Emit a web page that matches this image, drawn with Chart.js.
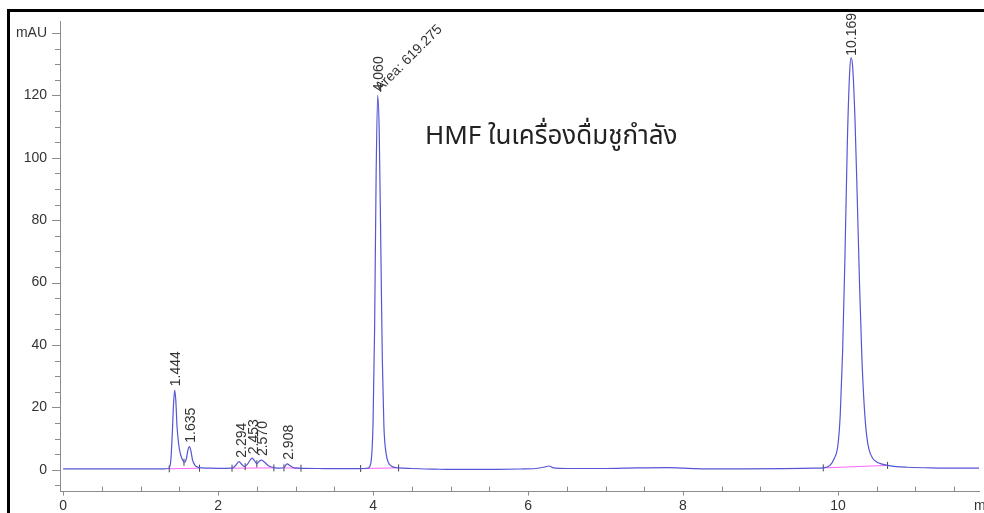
<!DOCTYPE html>
<html>
<head>
<meta charset="utf-8">
<script src="https://cdn.jsdelivr.net/npm/chart.js@4.4.0/dist/chart.umd.min.js"></script>
<style>
  html, body { margin: 0; padding: 0; background: #fff; }
  canvas { display: block; }
</style>
</head>
<body>
<canvas id="hplc" width="984" height="513"></canvas>
<script>
// trace: retention time (min) / signal (mAU)
const timeMin = [
  0, 0.5, 1.0, 1.30, 1.36, 1.39, 1.41, 1.425, 1.44, 1.455, 1.47, 1.49, 1.51, 1.54,
  1.565, 1.59, 1.61, 1.63, 1.65, 1.67, 1.70, 1.74, 1.80, 1.9, 2.0, 2.1, 2.18, 2.22,
  2.27, 2.31, 2.34, 2.38, 2.42, 2.44, 2.47, 2.50, 2.53, 2.56, 2.60, 2.65, 2.72, 2.80,
  2.85, 2.89, 2.93, 2.98, 3.1, 3.3, 3.6, 3.84, 3.93, 3.97, 4.00, 4.02, 4.04, 4.06,
  4.08, 4.10, 4.12, 4.14, 4.17, 4.20, 4.25, 4.33, 4.5, 4.8, 5.0, 5.3, 5.6, 5.9, 6.1,
  6.22, 6.27, 6.33, 6.5, 7.0, 7.4, 7.8, 8.0, 8.3, 8.8, 9.3, 9.7, 9.81, 9.9, 9.95,
  10.00, 10.03, 10.06, 10.09, 10.12, 10.15, 10.169, 10.19, 10.22, 10.25, 10.28, 10.31,
  10.34, 10.37, 10.40, 10.45, 10.50, 10.57, 10.64, 10.75, 10.9, 11.2, 11.5, 11.82
];
const signalMau = [
  0.3, 0.3, 0.3, 0.3, 0.4, 3, 12, 21, 25.5, 22, 14, 8.5, 5.5, 3.2,
  2.4, 3.5, 6.2, 7.4, 6, 3.2, 1.5, 0.8, 0.6, 0.5, 0.45, 0.45, 0.5, 1.2,
  2.6, 1.6, 1.0, 1.8, 3.3, 3.7, 2.9, 1.9, 2.7, 3.1, 2.4, 1.3, 0.7, 0.5,
  0.7, 1.9, 1.3, 0.6, 0.45, 0.4, 0.35, 0.35, 0.5, 2, 15, 45, 95, 120,
  108, 72, 35, 14, 5, 2.2, 1, 0.6, 0.4, 0.2, 0.1, 0.1, 0.15, 0.25, 0.4,
  0.9, 1.2, 0.6, 0.4, 0.4, 0.6, 0.7, 0.5, 0.3, 0.3, 0.35, 0.5, 0.6, 1.5, 3.5,
  8, 18, 38, 68, 104, 127, 132, 129, 112, 86, 58, 35,
  20, 11, 6.5, 3.6, 2.5, 1.8, 1.4, 1.0, 0.8, 0.6, 0.5, 0.5
];

// integration baselines (pink)
const baseStart = [1.37, 2.18, 2.85, 3.84, 9.81];
const baseEnd = [1.76, 2.72, 3.07, 4.33, 10.64];
const baseStartLevel = [0.3, 0.5, 0.6, 0.4, 0.6];
const baseEndLevel = [0.5, 0.6, 0.5, 0.6, 1.4];

// peak start / drop / end marks
const markerTimes = [1.37, 1.56, 1.76, 2.18, 2.35, 2.50, 2.72, 2.85, 3.07, 3.84, 4.33, 9.81, 10.64];
const markerLevels = [0.3, 2.4, 0.5, 0.5, 1.0, 1.9, 0.6, 0.6, 0.5, 0.4, 0.6, 0.6, 1.4];

// peak labels
const peakTimes = [1.444, 1.635, 2.294, 2.453, 2.570, 2.908, 4.060, 10.169];
const peakHeights = [25.5, 7.4, 2.6, 3.7, 3.1, 1.9, 120, 132];
const areaLabel = 'Area: 619.275';
const areaPeak = 6;

const xTickValues = [0, 2, 4, 6, 8, 10];
const yTickValues = [0, 20, 40, 60, 80, 100, 120, 140];
const yUnit = 'mAU';
const xUnit = 'min';
const titleText = 'HMF ในเครื่องดื่มชูกำลัง';

const baseData = [];
baseStart.forEach((s, i) => {
  baseData.push({ x: s, y: baseStartLevel[i] });
  baseData.push({ x: baseEnd[i], y: baseEndLevel[i] });
  baseData.push({ x: baseEnd[i], y: null });
});

const FONT = '"Liberation Sans", Arial, sans-serif';
const AXIS = '#8c8c8c';
const TEXT = '#333';

const chromPlugin = {
  id: 'chrom',
  beforeDraw(chart) {
    const { ctx } = chart;
    ctx.save();
    ctx.fillStyle = '#000';
    ctx.fillRect(7, 9, 977, 3);
    ctx.fillRect(7, 9, 3, 504);
    ctx.restore();
  },
  afterDraw(chart) {
    const { ctx, chartArea } = chart;
    const xs = chart.scales.x, ys = chart.scales.y;
    ctx.save();
    ctx.strokeStyle = AXIS;
    ctx.lineWidth = 1;
    ctx.beginPath();
    // y ticks, every 5
    for (let v = -5; v <= 140; v += 5) {
      const py = Math.round(ys.getPixelForValue(v)) + 0.5;
      const len = v % 20 === 0 ? 8 : 5;
      ctx.moveTo(chartArea.left - len, py);
      ctx.lineTo(chartArea.left, py);
    }
    // x ticks, every 0.5
    for (let v = 0; v <= 11.5; v += 0.5) {
      const px = Math.round(xs.getPixelForValue(v)) + 0.5;
      if (v % 2 === 0) {
        ctx.moveTo(px, chartArea.bottom);
        ctx.lineTo(px, chartArea.bottom + 4);
      } else {
        ctx.moveTo(px, chartArea.bottom - 5);
        ctx.lineTo(px, chartArea.bottom);
      }
    }
    ctx.stroke();

    // peak labels, pushed down where they would hit the frame
    ctx.fillStyle = TEXT;
    ctx.font = '14px ' + FONT;
    peakTimes.forEach((t, i) => {
      const txt = t.toFixed(3);
      const w = ctx.measureText(txt).width;
      const px = xs.getPixelForValue(t);
      const py = Math.max(ys.getPixelForValue(peakHeights[i]) - 4, 13 + w);
      ctx.save();
      ctx.translate(px + 1, py);
      ctx.rotate(-Math.PI / 2);
      ctx.textAlign = 'left';
      ctx.textBaseline = 'middle';
      ctx.fillText(txt, 0, 0);
      ctx.restore();
    });
    {
      const px = xs.getPixelForValue(peakTimes[areaPeak]);
      const py = ys.getPixelForValue(peakHeights[areaPeak]);
      ctx.save();
      ctx.translate(px + 5, py - 1);
      ctx.rotate(-Math.PI / 4);
      ctx.textAlign = 'left';
      ctx.textBaseline = 'bottom';
      ctx.fillText(areaLabel, 0, 0);
      ctx.restore();
    }

    // sample title
    ctx.fillStyle = '#222';
    ctx.font = '26px "Noto Sans Thai", "Noto Sans", ' + FONT;
    ctx.textAlign = 'center';
    ctx.textBaseline = 'middle';
    ctx.fillText(titleText, xs.getPixelForValue(6.3), ys.getPixelForValue(106));

    // axis unit (cut by the right edge)
    ctx.fillStyle = TEXT;
    ctx.font = '14px ' + FONT;
    ctx.textAlign = 'left';
    ctx.fillText(xUnit, 974, 506);
    ctx.restore();
  }
};

new Chart(document.getElementById('hplc'), {
  type: 'line',
  data: {
    datasets: [
      {
        data: timeMin.map((t, i) => ({ x: t, y: signalMau[i] })),
        borderColor: '#5555d6',
        borderWidth: 1.2,
        pointRadius: 0,
        cubicInterpolationMode: 'monotone',
        fill: false
      },
      {
        data: markerTimes.map((t, i) => ({ x: t, y: markerLevels[i] })),
        showLine: false,
        pointStyle: 'line',
        rotation: 90,
        pointRadius: 3.5,
        borderColor: '#444',
        borderWidth: 1
      },
      {
        data: baseData,
        borderColor: '#ff66ff',
        borderWidth: 1,
        pointRadius: 0,
        spanGaps: false
      }
    ]
  },
  options: {
    responsive: false,
    devicePixelRatio: 1,
    animation: false,
    layout: { padding: { top: 15, right: 0, left: 0, bottom: 0 } },
    plugins: { legend: { display: false }, tooltip: { enabled: false } },
    scales: {
      x: {
        type: 'linear',
        min: -0.04,
        max: 11.82,
        afterFit: s => { s.height = 21; },
        afterBuildTicks: s => { s.ticks = xTickValues.map(v => ({ value: v })); },
        grid: { display: true, drawOnChartArea: false, drawTicks: false },
        border: { display: true, color: AXIS, width: 1 },
        ticks: { autoSkip: false, maxRotation: 0, padding: 6, color: TEXT, font: { family: FONT, size: 14 } }
      },
      y: {
        type: 'linear',
        min: -7,
        max: 143.7,
        afterFit: s => { s.width = 60; },
        afterBuildTicks: s => { s.ticks = yTickValues.map(v => ({ value: v })); },
        grid: { display: true, drawOnChartArea: false, drawTicks: false },
        border: { display: true, color: AXIS, width: 1 },
        ticks: {
          padding: 13,
          color: TEXT,
          font: { family: FONT, size: 14 },
          callback: v => (v === 140 ? yUnit : v)
        }
      }
    }
  },
  plugins: [chromPlugin]
});
</script>
</body>
</html>
